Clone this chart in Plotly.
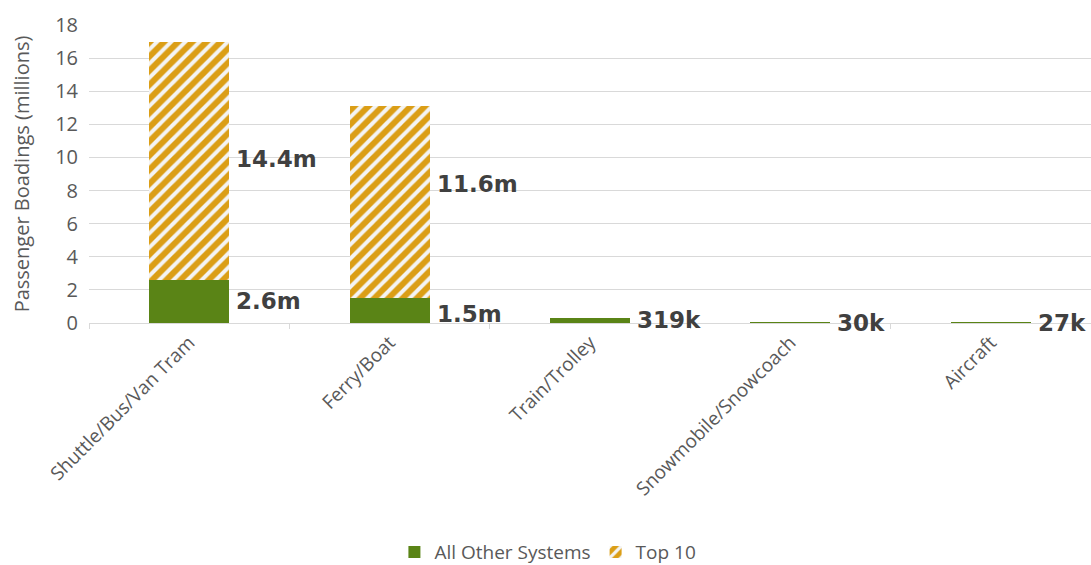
import plotly.graph_objects as go

categories = ["Shuttle/Bus/Van Tram", "Ferry/Boat", "Train/Trolley", "Snowmobile/Snowcoach", "Aircraft"]
other_systems = [2.6, 1.5, 0.319, 0.030, 0.027]
top10 = [14.4, 11.6, 0, 0, 0]
other_labels = ["2.6m", "1.5m", "319k", "30k", "27k"]
top10_labels = ["14.4m", "11.6m", "", "", ""]

GREEN = "#5a8416"
GOLD = "#db9e16"
xs = list(range(len(categories)))

fig = go.Figure()
fig.add_trace(go.Bar(
    x=xs, y=other_systems, name="All Other Systems",
    marker=dict(color=GREEN, line=dict(width=0)), width=0.4,
))
fig.add_trace(go.Bar(
    x=xs, y=top10, name="Top 10",
    marker=dict(color=GOLD, line=dict(width=0),
                pattern=dict(shape="/", bgcolor=GOLD, fgcolor="#f4f4f4",
                             fgopacity=1, size=10, solidity=0.4)),
    width=0.4,
))

label_font = dict(family="DejaVu Sans", size=23, color="#404040", weight=900)
# per-label vertical nudges (pixels)
other_yshift = [0, -3, 0, 0, 0]
top10_yshift = [2, 18, 0, 0, 0]
for i in xs:
    fig.add_annotation(x=i, y=other_systems[i] / 2, text=other_labels[i],
                       xref="x", yref="y", xanchor="left", yanchor="middle",
                       xshift=45, yshift=other_yshift[i], showarrow=False, font=label_font)
    if top10_labels[i]:
        fig.add_annotation(x=i, y=other_systems[i] + top10[i] / 2, text=top10_labels[i],
                           xref="x", yref="y", xanchor="left", yanchor="middle",
                           xshift=45, yshift=top10_yshift[i], showarrow=False, font=label_font)

fig.update_layout(
    barmode="stack",
    width=1091, height=565,
    margin=dict(l=89, r=0, t=25, b=242, autoexpand=False),
    plot_bgcolor="white", paper_bgcolor="white",
    font=dict(family="Open Sans", size=19, color="#595959"),
    showlegend=True,
    legend=dict(orientation="h", x=0.458, xanchor="center", xref="paper",
                y=-0.705, yanchor="top", traceorder="normal",
                font=dict(size=19, color="#595959"), itemwidth=30),
)
fig.update_xaxes(
    range=[-0.5, 4.5], tickmode="array", tickvals=xs, ticktext=categories,
    tickangle=-45, ticks="", showgrid=False, zeroline=False,
    showline=True, linecolor="#d9d9d9", linewidth=1, layer="above traces",
    tickfont=dict(size=19, color="#595959"),
    minor=dict(tick0=0.5, dtick=1, ticks="outside", ticklen=5, tickcolor="#d9d9d9", showgrid=False),
)
fig.update_yaxes(
    range=[0, 18], dtick=2, showgrid=True, gridcolor="#d9d9d9", gridwidth=1,
    zeroline=False, ticks="", ticklabelstandoff=10,
    tickfont=dict(size=20, color="#595959"),
    title=dict(text="Passenger Boadings (millions)", font=dict(size=20, color="#595959"), standoff=20),
)

fig.write_html("out.html")
